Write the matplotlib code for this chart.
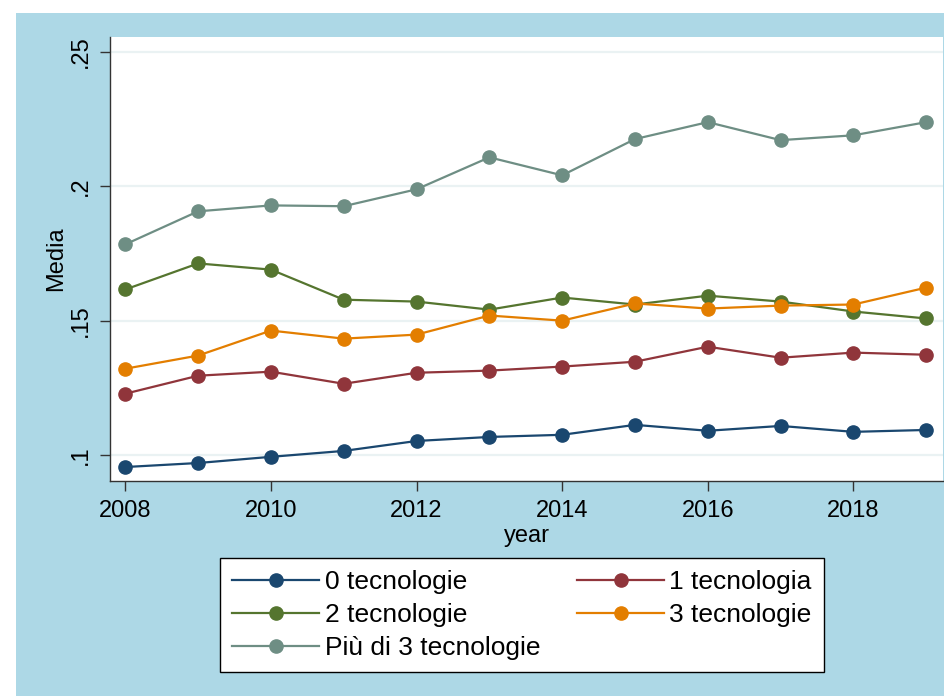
import matplotlib; matplotlib.use("Agg")
import matplotlib.pyplot as plt
from matplotlib.patches import Rectangle

years = [2008, 2009, 2010, 2011, 2012, 2013, 2014, 2015, 2016, 2017, 2018, 2019]
tec0 = [0.0955, 0.0970, 0.0993, 0.1015, 0.1052, 0.1067, 0.1075, 0.1112, 0.1090, 0.1108, 0.1086, 0.1093]
tec1 = [0.1228, 0.1295, 0.1310, 0.1265, 0.1306, 0.1314, 0.1329, 0.1347, 0.1403, 0.1362, 0.1381, 0.1373]
tec2 = [0.1616, 0.1713, 0.1690, 0.1578, 0.1571, 0.1541, 0.1586, 0.1560, 0.1593, 0.1571, 0.1534, 0.1508]
tec3 = [0.1321, 0.1370, 0.1463, 0.1433, 0.1448, 0.1519, 0.1500, 0.1564, 0.1545, 0.1556, 0.1560, 0.1623]
tec4 = [0.1784, 0.1907, 0.1929, 0.1926, 0.1989, 0.2108, 0.2041, 0.2176, 0.2239, 0.2172, 0.2190, 0.2239]
labels = ["0 tecnologie", "1 tecnologia", "2 tecnologie", "3 tecnologie", "Più di 3 tecnologie"]
colors = ["#1a476f", "#90353b", "#55752f", "#e37e00", "#6e8e84"]
yticks = [0.10, 0.15, 0.20, 0.25]
ytick_labels = [".1", ".15", ".2", ".25"]
xticks = [2008, 2010, 2012, 2014, 2016, 2018]

plt.rcParams["font.family"] = ["Liberation Sans", "DejaVu Sans"]
BG = "#add8e6"

fig = plt.figure(figsize=(9.45, 6.96), dpi=100)
fig.patch.set_facecolor("white")
# light blue graph region, white strip on top and left
fig.patches.append(Rectangle((16/945, 0), 1 - 16/945, 1 - 13/696, transform=fig.transFigure,
                             facecolor=BG, edgecolor="none", zorder=-10))

ax = fig.add_axes([110/945, 1 - 481/696, 833/945, 444/696])
ax.set_facecolor("white")
lines = []
for vals, lab, c in zip([tec0, tec1, tec2, tec3, tec4], labels, colors):
    ln, = ax.plot(years, vals, color=c, lw=1.6, marker="o", ms=9.5, label=lab, zorder=3)
    lines.append(ln)

ax.set_xlim(2007.79, 2019.23)
ax.set_ylim(0.0903, 0.2556)
ax.set_yticks(yticks)
ax.set_yticklabels(ytick_labels, rotation=90, va="center")
ax.set_xticks(xticks)
ax.grid(axis="y", color="#eaf2f3", lw=1.6, zorder=0)
for s in ("top", "right"):
    ax.spines[s].set_visible(False)
for s in ("left", "bottom"):
    ax.spines[s].set_color("#333333")
    ax.spines[s].set_linewidth(1.0)
ax.tick_params(axis="both", length=7, width=1, color="#333333", labelsize=17)
ax.tick_params(axis="y", pad=6)
ax.tick_params(axis="x", pad=6.5)
ax.set_ylabel("Media", fontsize=17, labelpad=2)
ax.set_xlabel("year", fontsize=17, labelpad=2)

# stata fills legend row-wise, matplotlib column-wise
order = [0, 2, 4, 1, 3]
leg = fig.legend([lines[i] for i in order], [labels[i] for i in order], ncol=2,
                 loc="center", bbox_to_anchor=(522/945, 1 - 615/696), fontsize=19,
                 frameon=True, fancybox=False, edgecolor="black", facecolor="white",
                 framealpha=1, handlelength=3.3, columnspacing=1.4, labelspacing=0.35,
                 borderpad=0.45, handletextpad=0.2)
leg.get_frame().set_linewidth(1.0)

fig.savefig("out.png", dpi=100)
